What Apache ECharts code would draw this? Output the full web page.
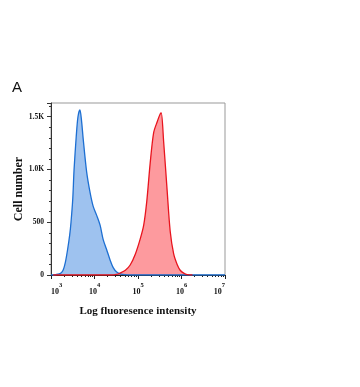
<!DOCTYPE html>
<html>
<head>
<meta charset="utf-8">
<script src="https://cdn.jsdelivr.net/npm/echarts@6/dist/echarts.min.js"></script>
<style>
html,body{margin:0;padding:0;background:#fff;}
#c{width:360px;height:387px;}
</style>
</head>
<body>
<div id="c"></div>
<script>
// x values are log10(fluorescence intensity)
var blueX = [3.0, 3.09, 3.16, 3.23, 3.28, 3.33, 3.38, 3.43, 3.46, 3.50, 3.53, 3.58, 3.62, 3.665, 3.70, 3.74, 3.82, 3.90, 3.97, 4.05, 4.13, 4.20, 4.28, 4.36, 4.43, 4.51, 4.60, 4.70, 4.85, 7.0];
var blueY = [0, 2, 8, 20, 47, 120, 237, 380, 500, 720, 996, 1312, 1500, 1565, 1470, 1290, 975, 778, 650, 565, 470, 335, 240, 140, 70, 28, 10, 3, 0, 0];
var redX = [3.05, 4.40, 4.50, 4.59, 4.71, 4.82, 4.94, 5.05, 5.13, 5.20, 5.28, 5.36, 5.44, 5.51, 5.535, 5.59, 5.67, 5.74, 5.82, 5.90, 5.97, 6.05, 6.13, 6.25];
var redY = [0, 0, 5, 19, 45, 95, 200, 340, 470, 690, 1060, 1350, 1450, 1525, 1535, 1260, 800, 415, 200, 100, 45, 18, 3, 0];
var xTickExps = [3, 4, 5, 6, 7];
var yTicks = [0, 500, 1000, 1500];
var yLabels = ['0', '500', '1.0K', '1.5K'];

function pairs(xs, ys) { return xs.map(function (x, i) { return [x, ys[i]]; }); }
var minorX = [];
for (var e = 3; e < 7; e++) { for (var m = 2; m <= 9; m++) { minorX.push(e + Math.log10(m)); } }

var serif = 'Liberation Serif';
var chart = echarts.init(document.getElementById('c'), null, { renderer: 'canvas' });
chart.setOption({
  animation: false,
  backgroundColor: '#fff',
  graphic: [{ type: 'text', left: 12, top: 80, style: { text: 'A', font: '15px "Liberation Sans"', fill: '#111' } }],
  grid: { left: 51, right: 135, top: 103, bottom: 112, show: true, borderColor: '#999', borderWidth: 1 },
  xAxis: [{
    type: 'value', min: 3, max: 7, interval: 1,
    name: 'Log fluoresence intensity', nameLocation: 'middle', nameGap: 31,
    nameTextStyle: { fontFamily: serif, fontWeight: 'bold', fontSize: 11, color: '#111' },
    axisLine: { lineStyle: { color: '#222', width: 1 } },
    axisTick: { show: true, length: 4, lineStyle: { color: '#222' } },
    splitLine: { show: false },
    axisLabel: {
      margin: 7, alignMinLabel: 'left', alignMaxLabel: 'right',
      customValues: xTickExps,
      formatter: function (v) { return '{b|10}{s|' + Math.round(v) + '}'; },
      rich: {
        b: { fontFamily: serif, fontWeight: 'bold', fontSize: 8, color: '#111', lineHeight: 14, verticalAlign: 'bottom' },
        s: { fontFamily: serif, fontWeight: 'bold', fontSize: 6.5, color: '#111', lineHeight: 14, verticalAlign: 'top' }
      }
    }
  }, {
    type: 'value', min: 3, max: 7, position: 'bottom', offset: 0,
    axisLine: { show: false },
    axisTick: { show: true, length: 2, customValues: minorX, lineStyle: { color: '#222' } },
    axisLabel: { show: false }, splitLine: { show: false }
  }],
  yAxis: [{
    type: 'value', min: 0, max: 1630, interval: 500, position: 'left',
    name: 'Cell number', nameLocation: 'middle', nameGap: 25, nameRotate: 90,
    nameTextStyle: { fontFamily: serif, fontWeight: 'bold', fontSize: 12, color: '#111' },
    axisLine: { show: true, lineStyle: { color: '#333', width: 1 } },
    axisTick: { show: true, length: 4, lineStyle: { color: '#333' } },
    splitLine: { show: false },
    axisLabel: {
      margin: 7, fontFamily: serif, fontWeight: 'bold', fontSize: 7.5, color: '#111',
      formatter: function (v) { var i = yTicks.indexOf(v); return i >= 0 ? yLabels[i] : ''; }
    }
  }, {
    type: 'value', min: 0, max: 1630, interval: 100, position: 'left', offset: 0,
    axisLine: { show: false },
    axisTick: { show: true, length: 2, lineStyle: { color: '#333' } },
    axisLabel: { show: false }, splitLine: { show: false }
  }],
  series: [{
    type: 'line', xAxisIndex: 0, yAxisIndex: 0, data: pairs(blueX, blueY),
    smooth: 0.3, symbol: 'none',
    lineStyle: { color: '#1d6fd2', width: 1.3 },
    areaStyle: { color: 'rgba(40,120,220,0.45)', opacity: 1 }
  }, {
    type: 'line', xAxisIndex: 0, yAxisIndex: 0, data: pairs(redX, redY),
    smooth: 0.3, symbol: 'none',
    lineStyle: { color: '#e8141e', width: 1.3 },
    areaStyle: { color: 'rgba(250,30,40,0.45)', opacity: 1 }
  }]
});
</script>
</body>
</html>
